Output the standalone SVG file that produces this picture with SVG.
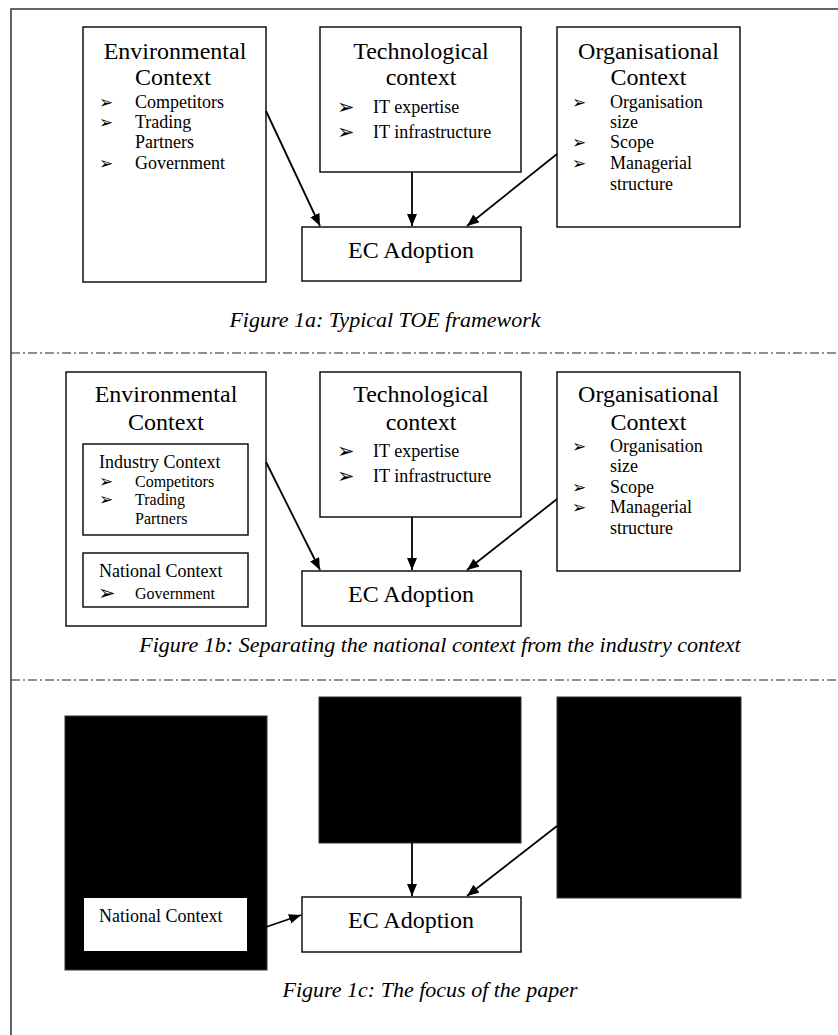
<svg xmlns="http://www.w3.org/2000/svg" width="838" height="1035" viewBox="0 0 838 1035">
<style>
.box{fill:#fff;stroke:#000;stroke-width:1.4}
.blk{fill:#000;stroke:#333;stroke-width:1}
.t{font-family:"Liberation Serif","Times New Roman",serif;fill:#000}
.h{font-size:24px;text-anchor:middle}
.i{font-size:18px}
.s{font-size:16px}
.b{font-family:"DejaVu Sans",sans-serif;font-size:17px;fill:#000}
.bl{font-family:"DejaVu Sans",sans-serif;font-size:21px;fill:#000}
.cap{font-family:"Liberation Serif","Times New Roman",serif;font-style:italic;font-size:22px;fill:#000}
.con{stroke:#000;stroke-width:1.8;fill:none;marker-end:url(#ah)}
.sep{stroke:#222;stroke-width:1.2;stroke-dasharray:9 3 2 3;fill:none}
</style>
<defs>
<marker id="ah" markerUnits="userSpaceOnUse" markerWidth="13" markerHeight="11" refX="12" refY="5" orient="auto">
<path d="M0,0 L12,5 L0,10 z" fill="#000"/>
</marker>
</defs>
<rect width="838" height="1035" fill="#fff"/>
<g id="frame">
<path d="M11,1035 V9 H838" fill="none" stroke="#333" stroke-width="1.5"/>
<path class="sep" d="M11,353 H838"/>
<path class="sep" d="M11,680 H838"/>
</g>

<!-- Figure 1a -->
<g id="env-a">
<rect class="box" x="83" y="27" width="183" height="255"/>
<text class="t h" x="175" y="59">Environmental</text>
<text class="t h" x="173" y="85">Context</text>
<text class="b" x="99" y="108">➢</text>
<text class="t i" x="135" y="108">Competitors</text>
<text class="b" x="99" y="128">➢</text>
<text class="t i" x="135" y="128">Trading</text>
<text class="t i" x="135" y="148">Partners</text>
<text class="b" x="99" y="169">➢</text>
<text class="t i" x="135" y="169">Government</text>
</g>
<g id="tech-a">
<rect class="box" x="320" y="27" width="201" height="145"/>
<text class="t h" x="421" y="59">Technological</text>
<text class="t h" x="421" y="85">context</text>
<text class="bl" x="337" y="114">➢</text>
<text class="t i" x="373" y="113">IT expertise</text>
<text class="bl" x="337" y="139">➢</text>
<text class="t i" x="373" y="138">IT infrastructure</text>
</g>
<g id="org-a">
<rect class="box" x="557" y="27" width="183" height="200"/>
<text class="t h" x="648.5" y="59">Organisational</text>
<text class="t h" x="648.5" y="85">Context</text>
<text class="b" x="572" y="108">➢</text>
<text class="t i" x="610" y="108">Organisation</text>
<text class="t i" x="610" y="128">size</text>
<text class="b" x="572" y="148">➢</text>
<text class="t i" x="610" y="148">Scope</text>
<text class="b" x="572" y="169">➢</text>
<text class="t i" x="610" y="169">Managerial</text>
<text class="t i" x="610" y="190">structure</text>
</g>
<g id="ec-a">
<rect class="box" x="302" y="227" width="219" height="54"/>
<text class="t h" x="411" y="258">EC Adoption</text>
</g>
<g id="connectors-a">
<line class="con" x1="266" y1="111" x2="320" y2="226"/>
<line class="con" x1="412" y1="172" x2="412" y2="226"/>
<line class="con" x1="557" y1="154" x2="467" y2="226"/>
</g>
<text class="cap" x="385" y="327" text-anchor="middle">Figure 1a: Typical TOE framework</text>

<!-- Figure 1b -->
<g id="env-b">
<rect class="box" x="66" y="372" width="200" height="254"/>
<text class="t h" x="166" y="402">Environmental</text>
<text class="t h" x="166" y="430">Context</text>
</g>
<g id="industry-b">
<rect class="box" x="83" y="444" width="165" height="91"/>
<text class="t i" x="99" y="468">Industry Context</text>
<text class="b" x="99" y="487">➢</text>
<text class="t s" x="135" y="487">Competitors</text>
<text class="b" x="99" y="505">➢</text>
<text class="t s" x="135" y="505">Trading</text>
<text class="t s" x="135" y="524">Partners</text>
</g>
<g id="national-b">
<rect class="box" x="83" y="553" width="165" height="54"/>
<text class="t i" x="99" y="577">National Context</text>
<text class="bl" x="98" y="600">➢</text>
<text class="t s" x="135" y="599">Government</text>
</g>
<g id="tech-b">
<rect class="box" x="320" y="372" width="201" height="145"/>
<text class="t h" x="421" y="402">Technological</text>
<text class="t h" x="421" y="430">context</text>
<text class="bl" x="337" y="458">➢</text>
<text class="t i" x="373" y="457">IT expertise</text>
<text class="bl" x="337" y="483">➢</text>
<text class="t i" x="373" y="482">IT infrastructure</text>
</g>
<g id="org-b">
<rect class="box" x="557" y="372" width="183" height="199"/>
<text class="t h" x="648.5" y="402">Organisational</text>
<text class="t h" x="648.5" y="430">Context</text>
<text class="b" x="572" y="452">➢</text>
<text class="t i" x="610" y="452">Organisation</text>
<text class="t i" x="610" y="472">size</text>
<text class="b" x="572" y="493">➢</text>
<text class="t i" x="610" y="493">Scope</text>
<text class="b" x="572" y="513">➢</text>
<text class="t i" x="610" y="513">Managerial</text>
<text class="t i" x="610" y="534">structure</text>
</g>
<g id="ec-b">
<rect class="box" x="302" y="571" width="219" height="55"/>
<text class="t h" x="411" y="602">EC Adoption</text>
</g>
<g id="connectors-b">
<line class="con" x1="266" y1="462" x2="320" y2="570"/>
<line class="con" x1="412" y1="517" x2="412" y2="570"/>
<line class="con" x1="557" y1="499" x2="467" y2="570"/>
</g>
<text class="cap" x="440" y="652" text-anchor="middle">Figure 1b: Separating the national context from the industry context</text>

<!-- Figure 1c -->
<g id="env-c">
<rect class="blk" x="65" y="716" width="202" height="254"/>
</g>
<g id="national-c">
<rect x="84" y="898" width="163" height="53" fill="#fff"/>
<text class="t i" x="99" y="922">National Context</text>
</g>
<g id="tech-c">
<rect class="blk" x="319" y="697" width="202" height="146"/>
</g>
<g id="org-c">
<rect class="blk" x="557" y="697" width="184" height="201"/>
</g>
<g id="ec-c">
<rect class="box" x="302" y="897" width="219" height="55"/>
<text class="t h" x="411" y="928">EC Adoption</text>
</g>
<g id="connectors-c">
<line class="con" x1="266" y1="927" x2="301" y2="915"/>
<line class="con" x1="412" y1="843" x2="412" y2="896"/>
<line class="con" x1="557" y1="826" x2="467" y2="896"/>
</g>
<text class="cap" x="430" y="997" text-anchor="middle">Figure 1c: The focus of the paper</text>
</svg>
